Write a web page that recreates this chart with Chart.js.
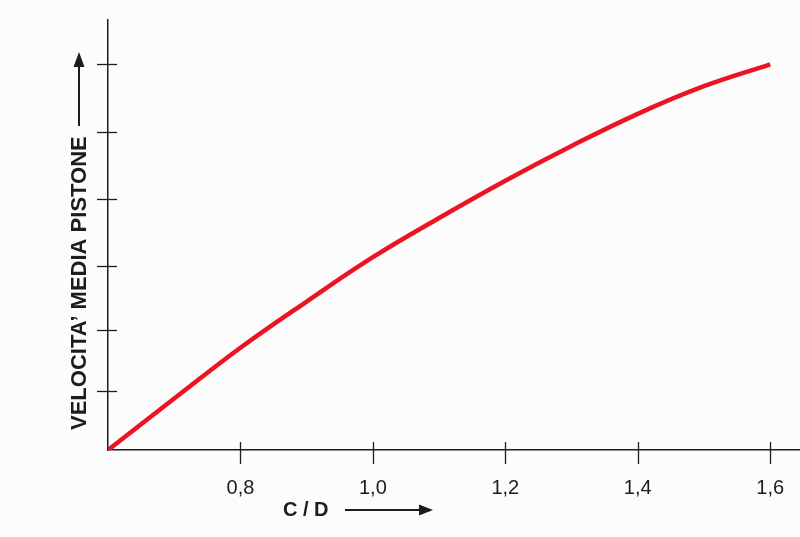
<!DOCTYPE html>
<html>
<head>
<meta charset="utf-8">
<script src="https://cdn.jsdelivr.net/npm/chart.js@4.4.0/dist/chart.umd.min.js"></script>
<style>
  html, body { margin: 0; padding: 0; background: #fdfcfd; }
  #wrap { width: 800px; height: 537px; }
</style>
</head>
<body>
<div id="wrap"><canvas id="chart"></canvas></div>
<script>
// rapporto corsa / alesaggio
var cdValues = [0.6, 0.7, 0.8, 0.9, 1.0, 1.1, 1.2, 1.3, 1.4, 1.5, 1.6];
// velocita' media pistone (scala arbitraria, senza etichette)
var speedValues = [0, 0.80, 1.59, 2.31, 3.00, 3.61, 4.19, 4.73, 5.23, 5.66, 6.00];
var xTicks = [0.8, 1.0, 1.2, 1.4, 1.6];
// tacche dell'asse y come appaiono sul disegno (passo non del tutto regolare)
var yTicks = [0.92, 1.87, 2.87, 3.91, 4.94, 6.0];

var FONT = '"Liberation Sans", Arial, Helvetica, sans-serif';
var INK = "#1c1c1c";

var points = cdValues.map(function(v, i) { return { x: v, y: speedValues[i] }; });

function arrow(ctx, x1, y1, x2, y2, head, half) {
    var a = Math.atan2(y2 - y1, x2 - x1);
    ctx.beginPath();
    ctx.moveTo(x1, y1);
    ctx.lineTo(x2 - Math.cos(a) * head * 0.8, y2 - Math.sin(a) * head * 0.8);
    ctx.stroke();
    ctx.beginPath();
    ctx.moveTo(x2, y2);
    ctx.lineTo(x2 - Math.cos(a) * head - Math.sin(a) * half, y2 - Math.sin(a) * head + Math.cos(a) * half);
    ctx.lineTo(x2 - Math.cos(a) * head + Math.sin(a) * half, y2 - Math.sin(a) * head - Math.cos(a) * half);
    ctx.closePath();
    ctx.fill();
}

var decorations = {
    id: "decorations",
    afterDraw: function(chart) {
        var ctx = chart.ctx, a = chart.chartArea;
        var xs = chart.scales.x, ys = chart.scales.y;
        ctx.save();
        ctx.strokeStyle = INK;
        ctx.fillStyle = INK;
        ctx.lineWidth = 1.3;
        // tacche incrociate sugli assi
        xs.ticks.forEach(function(t) {
            var px = Math.round(xs.getPixelForValue(t.value)) + 0.5;
            ctx.beginPath();
            ctx.moveTo(px, a.bottom - 8);
            ctx.lineTo(px, a.bottom + 14);
            ctx.stroke();
        });
        ys.ticks.forEach(function(t) {
            var py = Math.round(ys.getPixelForValue(t.value)) + 0.5;
            ctx.beginPath();
            ctx.moveTo(a.left - 11, py);
            ctx.lineTo(a.left + 9, py);
            ctx.stroke();
        });
        // titolo asse x con freccia
        ctx.font = "bold 20px " + FONT;
        ctx.textAlign = "left";
        ctx.textBaseline = "middle";
        ctx.fillText("C / D", 283, a.bottom + 60);
        ctx.lineWidth = 2;
        arrow(ctx, 345, a.bottom + 60, 433, a.bottom + 60, 14, 5.5);
        // titolo asse y con freccia
        ctx.save();
        ctx.translate(a.left - 28, a.bottom - 20);
        ctx.rotate(-Math.PI / 2);
        ctx.font = "bold 22px " + FONT;
        ctx.fillText("VELOCITA\u2019 MEDIA PISTONE", 0, 0);
        ctx.restore();
        arrow(ctx, a.left - 29, 126, a.left - 29, 52, 15, 5.5);
        ctx.restore();
    }
};

new Chart(document.getElementById("chart"), {
    type: "line",
    data: {
        datasets: [{
            data: points,
            borderColor: "#ea1423",
            borderWidth: 4.5,
            pointRadius: 0,
            fill: false,
            tension: 0.4,
            borderCapStyle: "butt"
        }]
    },
    options: {
        responsive: true,
        maintainAspectRatio: false,
        animation: false,
        layout: { padding: { top: 20, right: 0, left: 0, bottom: 0 } },
        plugins: { legend: { display: false }, tooltip: { enabled: false } },
        scales: {
            x: {
                type: "linear",
                min: 0.6,
                max: 1.645,
                afterBuildTicks: function(s) { s.ticks = xTicks.map(function(v) { return { value: v }; }); },
                afterFit: function(s) { s.height = 87; s.paddingLeft = 0; s.paddingRight = 0; },
                grid: { display: false, drawTicks: false },
                border: { display: true, color: INK, width: 1.5 },
                ticks: {
                    padding: 26,
                    color: INK,
                    font: { family: FONT, size: 20 },
                    callback: function(v) { return v.toFixed(1).replace(".", ","); }
                }
            },
            y: {
                type: "linear",
                min: 0,
                max: 6.69,
                afterBuildTicks: function(s) { s.ticks = yTicks.map(function(v) { return { value: v }; }); },
                afterFit: function(s) { s.width = 108; s.paddingTop = 0; s.paddingBottom = 0; },
                grid: { display: false, drawTicks: false },
                border: { display: true, color: INK, width: 1.5 },
                ticks: { display: false }
            }
        }
    },
    plugins: [decorations]
});
</script>
</body>
</html>
